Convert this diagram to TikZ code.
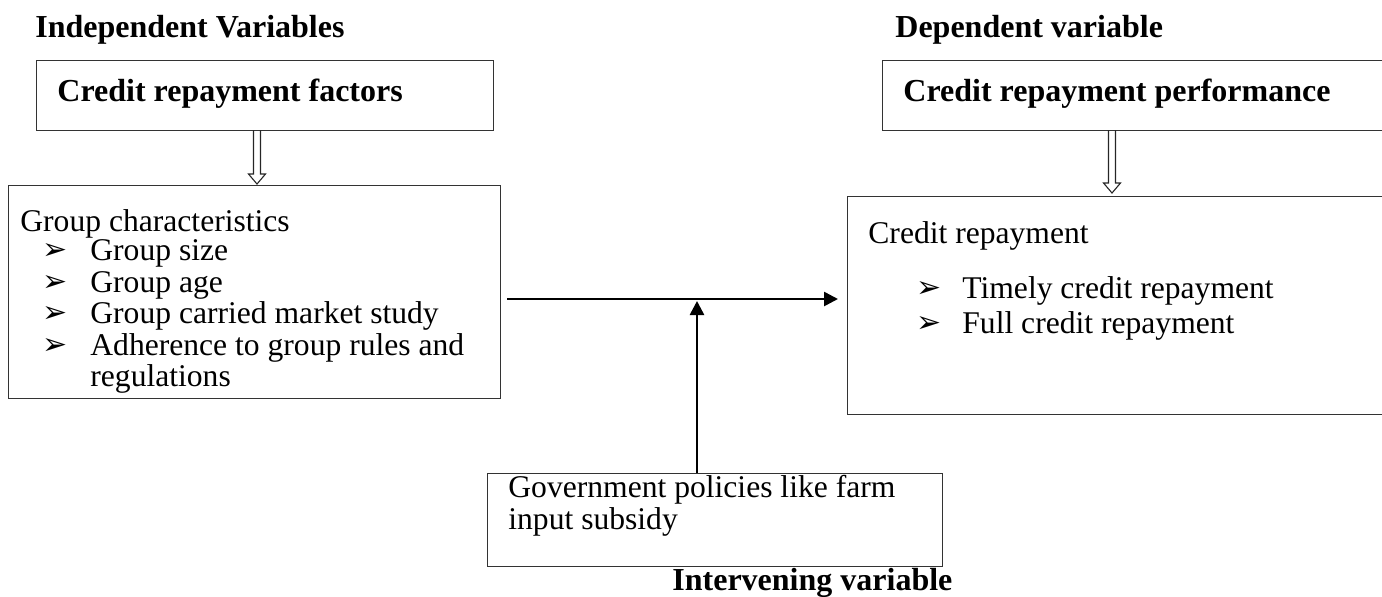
\documentclass[tikz,border=0pt]{standalone}
\usepackage{fontspec}
\setmainfont{Liberation Serif}
\newfontfamily\dingfont{DejaVu Sans}
\usetikzlibrary{arrows.meta,calc}
\begin{document}
\begin{tikzpicture}[x=0.5pt,y=-0.5pt,
  box/.style={draw=black!80, line width=0.7pt, rectangle, inner sep=0pt, anchor=north west},
  txt/.style={anchor=base west, inner sep=0pt, font=\fontsize{15.8}{16}\selectfont},
  btxt/.style={anchor=base west, inner sep=0pt, font=\fontsize{16}{16}\selectfont\bfseries},
  bul/.style={anchor=base west, inner sep=0pt, font=\dingfont\fontsize{15}{15}\selectfont},
  flow/.style={line width=1.3pt, -{Triangle[length=7pt,width=7pt]}},
  hollow/.style={draw=black!85, line width=0.55pt, line join=miter}]
\useasboundingbox (0,0) rectangle (1382,596);
\clip (0,0) rectangle (1382,596);
% titles
\node[btxt] (tind) at (35,37) {Independent Variables};
\node[btxt] (tdep) at (895,37) {Dependent variable};
\node[btxt] (tint) at (672,590) {Intervening variable};
% boxes
\node[box, minimum width=228.5pt, minimum height=35pt] (b1) at (36,60) {};
\node[box, minimum width=246pt, minimum height=106.5pt] (b2) at (8,185) {};
\node[box, minimum width=260pt, minimum height=35pt] (b3) at (882,60) {};
\node[box, minimum width=276.5pt, minimum height=109pt] (b4) at (847,196) {};
\node[box, minimum width=227.5pt, minimum height=46.5pt] (b5) at (487,473) {};
% box texts
\node[btxt] (t1) at (57,101) {Credit repayment factors};
\node[btxt] (t3) at (903,101) {Credit repayment performance};
\node[txt] (t2) at (20,231) {Group characteristics};
\node[bul] (u1) at (42,259) {➢};
\node[txt] (l1) at (90,260) {Group size};
\node[bul] (u2) at (42,291) {➢};
\node[txt] (l2) at (90,292) {Group age};
\node[bul] (u3) at (42,322) {➢};
\node[txt] (l3) at (90,323) {Group carried market study};
\node[bul] (u4) at (42,354) {➢};
\node[txt] (l4) at (90,355) {Adherence to group rules and};
\node[txt] (l5) at (90,386) {regulations};
\node[txt] (t4) at (868,243) {Credit repayment};
\node[bul] (u6) at (916,297) {➢};
\node[txt] (l6) at (962,298) {Timely credit repayment};
\node[bul] (u7) at (916,332) {➢};
\node[txt] (l7) at (962,333) {Full credit repayment};
\node[txt] (g1) at (508,497) {Government policies like farm};
\node[txt] (g2) at (508,529) {input subsidy};
% connectors
\coordinate (h1) at (507,299);
\coordinate (h2) at (838,299);
\coordinate (mid) at (697,301);
\draw[flow] (h1) -- (h2);
\draw[flow] (b5.north -| mid) -- (mid);
\coordinate (d1) at (257,130);
\coordinate (d2) at (1112,130);
\draw[hollow] (d1) ++(-3.5,0) -- ++(0,44) -- ++(-5,0) -- ++(8.5,10) -- ++(8.5,-10) -- ++(-5,0) -- ++(0,-44);
\draw[hollow] (d2) ++(-3.5,0) -- ++(0,53) -- ++(-5,0) -- ++(8.5,10) -- ++(8.5,-10) -- ++(-5,0) -- ++(0,-53);
\end{tikzpicture}
\end{document}
